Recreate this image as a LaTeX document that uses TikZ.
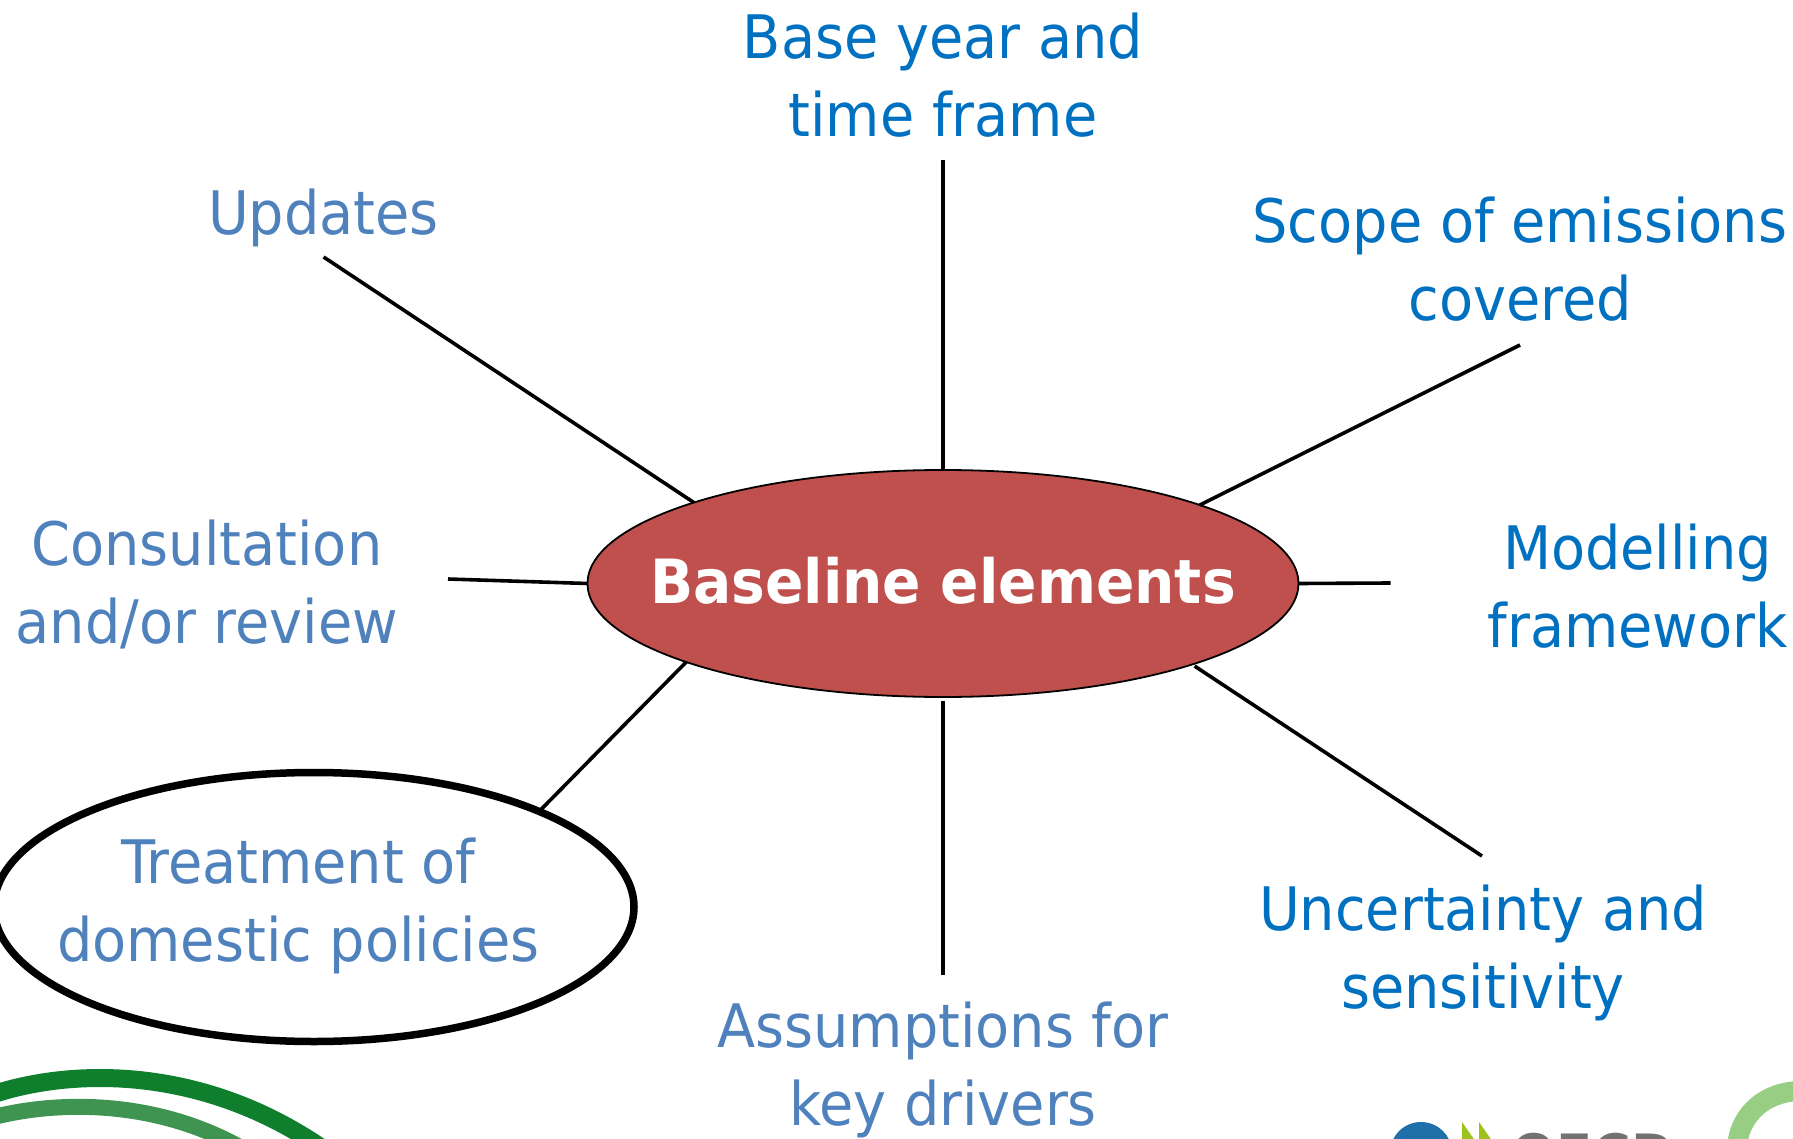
\documentclass[tikz,border=0pt]{standalone}
\usepackage{fontspec}
\setmainfont[FakeStretch=1.032]{DejaVu Sans Condensed}
\usetikzlibrary{shapes.geometric}
\definecolor{blueA}{HTML}{0070C0}
\definecolor{blueB}{HTML}{4F81BD}
\definecolor{redE}{HTML}{C0504D}
\definecolor{greenA}{HTML}{0F7F2E}
\definecolor{greenB}{HTML}{3F9452}
\definecolor{greenC}{HTML}{97CE84}
\definecolor{globe}{HTML}{1F6FA8}
\definecolor{leafG}{HTML}{9CC31C}
\tikzset{
 lab/.style={align=center,inner sep=0,outer sep=0,font=\fontsize{60}{78}\selectfont},
 labA/.style={lab,text=blueA},
 labB/.style={lab,text=blueB},
 spoke/.style={line width=3.6pt,black},
}
\begin{document}
\begin{tikzpicture}[x=1pt,y=-1pt]
\useasboundingbox (0,0) rectangle (1793,1139);
\begin{scope}
\clip (0,0) rectangle (1793,1139);
% logos
\draw[greenA,line width=18pt] (-30,1103) .. controls (50,1068) and (205,1055) .. (345,1165);
\draw[greenB,line width=16pt] (-30,1124) .. controls (40,1100) and (150,1095) .. (245,1150);
\draw[greenC,line width=20pt] (1737,1150) .. controls (1737,1120) and (1760,1092) .. (1800,1091);
\fill[globe] (1421,1153) circle (31);
\fill[leafG] (1462,1122) -- (1462,1145) -- (1478,1145) -- cycle;
\fill[leafG] (1479,1122) -- (1479,1145) -- (1495,1145) -- cycle;
\node[anchor=base west,inner sep=0,text=black!55,font=\fontsize{57}{57}\selectfont\bfseries] (oecd) at (1511,1175) {OECD};
\node[draw=black,line width=7.5pt,fill=white,shape=ellipse,minimum width=640pt,minimum height=269pt,inner sep=0,outer sep=0] (treat) at (314,907) {};
\end{scope}
\node[draw=black,line width=1.8pt,fill=redE,shape=ellipse,minimum width=711pt,minimum height=227pt,inner sep=0,outer sep=0] (main) at (943,583.5) {};
\node[inner sep=0,outer sep=0,text=white,font=\fontsize{61}{70}\selectfont\bfseries] (mainT) at (943,581) {Baseline elements};
\node[labA] (base) at (943,75) {Base year and\\time frame};
\node[labB] (upd) at (323.5,217.5) {Updates};
\node[labA] (scope) at (1520,259) {Scope of emissions\\covered};
\node[labA] (model) at (1637.5,586) {Modelling\\framework};
\node[labB] (cons) at (207,584) {Consultation\\and/or review};
\node[labB] (tr) at (298.5,905.5) {Treatment of\\domestic policies};
\node[labB] (assu) at (943,1070) {Assumptions for\\key drivers};
\node[labA] (unc) at (1483,952.5) {Uncertainty and\\sensitivity};
\coordinate (c1) at (943,160);
\coordinate (c2) at (323.6,257);
\coordinate (c3) at (1520,345);
\coordinate (c4) at (448,579);
\coordinate (c5) at (1390.5,583);
\coordinate (c6) at (943,975);
\coordinate (c7) at (1482,856);
\draw[spoke] (c1) -- (main.90);
\draw[spoke] (c2) -- (main.162.5);
\draw[spoke] (c3) -- (main.17.4);
\draw[spoke] (c4) -- (main.180);
\draw[spoke] (c5) -- (main.-0.6);
\draw[spoke] (treat.23) -- (main.197.8);
\draw[spoke,shorten >=4pt] (c6) -- (main.270);
\draw[spoke,shorten >=3pt] (c7) -- (main.-18.5);
\end{tikzpicture}
\end{document}
